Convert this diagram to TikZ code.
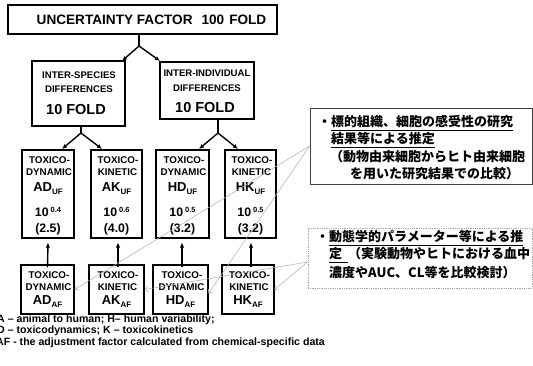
\documentclass[tikz,border=0pt]{standalone}
\usepackage{fontspec}
\setmainfont{Liberation Sans}
\newfontfamily\jp{Noto Sans CJK JP}
\usetikzlibrary{arrows.meta}
\newcommand{\fs}[1]{\fontsize{#1}{#1}\selectfont}
\newcommand{\sbx}[1]{\raisebox{-2.4pt}{\fs{8}#1}}
\newcommand{\spx}[1]{\raisebox{4.6pt}{\fs{7.5}#1}}
\begin{document}
\begin{tikzpicture}[x=1pt,y=-1pt,
  box/.style={draw=black, line width=1.1pt, fill=white, inner sep=0pt},
  lbl/.style={inner sep=0pt, font=\bfseries\fs{9.6}},
  tox/.style={inner sep=0pt, font=\bfseries\fs{9.8}},
  big/.style={inner sep=0pt, font=\bfseries\fs{12.3}},
  leg/.style={inner sep=0pt, anchor=west, font=\bfseries\fs{10.6}},
  blk/.style={line width=1.4pt, -{Latex[length=5pt,width=4.5pt]}},
  gry/.style={draw=gray!60, line width=0.55pt, -{Straight Barb[length=3pt,width=5pt]}},
  jpt/.style={inner sep=0pt, anchor=base west, font=\jp\bfseries\fs{13}}
]
\useasboundingbox (0,0) rectangle (533,366);

% top box
\node[box, minimum width=269pt, minimum height=29pt] (top) at (142.5,19.5) {};
\node[inner sep=0pt, font=\bfseries\fs{13.6}] (toptxt) at (151.5,19.5) {UNCERTAINTY FACTOR\hspace{9pt}100\hspace{5pt}FOLD};

% second level
\node[box, minimum width=93pt, minimum height=65pt] (isp) at (78.5,93.5) {};
\node[lbl] (isp1) at (79,75) {INTER-SPECIES};
\node[lbl] (isp2) at (79,89) {DIFFERENCES};
\node[inner sep=0pt, font=\bfseries\fs{14.5}] (isp3) at (76,110) {10 FOLD};

\node[box, minimum width=94pt, minimum height=57pt] (iind) at (207,90.5) {};
\node[lbl] (iind1) at (207,73) {INTER-INDIVIDUAL};
\node[lbl] (iind2) at (207,88) {DIFFERENCES};
\node[inner sep=0pt, font=\bfseries\fs{14.5}] (iind3) at (205,108) {10 FOLD};

% UF boxes
\foreach \n/\x/\w/\a/\b/\c/\e in {aduf/48/52/DYNAMIC/AD/0.4/2.5, akuf/116.5/51/KINETIC/AK/0.6/4.0, hduf/182.5/53/DYNAMIC/HD/0.5/3.2, hkuf/250.5/51/KINETIC/HK/0.5/3.2}{
  \node[box, minimum width=\w pt, minimum height=88pt] (\n) at (\x,194) {};
  \node[tox] (\n t1) at (\x+1.5,160) {TOXICO-};
  \node[tox] (\n t2) at (\x+1,172) {\a};
  \node[big, font=\bfseries\fs{13}] (\n t3) at (\x,188.5) {\b\sbx{UF}};
  \node[big] (\n t4) at (\x,212) {10\,\spx{\c}};
  \node[big] (\n t5) at (\x,229) {(\e)};
}

% AF boxes
\foreach \n/\x/\w/\a/\b in {adaf/47.5/53/DYNAMIC/AD, akaf/116.5/55/KINETIC/AK, hdaf/180.5/55/DYNAMIC/HD, hkaf/248/52/KINETIC/HK}{
  \node[box, minimum width=\w pt, minimum height=49pt] (\n) at (\x,289.5) {};
  \node[tox] (\n t1) at (\x+1.5,275) {TOXICO-};
  \node[tox] (\n t2) at (\x+1,287) {\a};
  \node[big, font=\bfseries\fs{13}] (\n t3) at (\x,301.5) {\b\sbx{AF}};
}

% tree arrows
\coordinate (s0) at (139,46);
\draw[line width=1.4pt] ([xshift=-3.5pt]top.south) -- (s0);
\draw[blk] (s0) -- (122,61);
\draw[blk] (s0) -- (160,61);
\coordinate (s1) at (81,133);
\draw[line width=1.4pt] ([xshift=2.5pt]isp.south) -- (s1);
\draw[blk] (s1) -- (62,149);
\draw[blk] (s1) -- (102,149);
\coordinate (s2) at (218,133);
\draw[line width=1.4pt] ([xshift=11pt]iind.south) -- (s2);
\draw[blk] (s2) -- (199,149);
\draw[blk] (s2) -- (238,149);

% vertical arrows AF -> UF
\draw[blk] ([yshift=-3pt]adaf.north) -- ([yshift=-4pt]aduf.south);
\draw[blk] ([xshift=1.5pt,yshift=-3pt]akaf.north) -- ([xshift=1.5pt,yshift=-4pt]akuf.south);
\draw[blk] ([xshift=1.5pt,yshift=-3pt]hdaf.north) -- ([xshift=-0.5pt,yshift=-4pt]hduf.south);
\draw[blk] ([xshift=3pt,yshift=-3pt]hkaf.north) -- ([xshift=0.5pt,yshift=-4pt]hkuf.south);

% callouts
\node[draw=black!75, line width=0.8pt, fill=white, minimum width=222pt, minimum height=76pt, inner sep=0pt] (co1) at (421,146) {};
\node[jpt] (co1a) at (318,127) {・\underline{標的組織、細胞の感受性の研究}};
\node[jpt] (co1b) at (331,144) {\underline{結果等による推定}};
\node[jpt] (co1c) at (330,162) {（動物由来細胞からヒト由来細胞};
\node[jpt] (co1d) at (350,179) {を用いた研究結果での比較）};

\node[draw=gray!70, densely dotted, line width=0.8pt, fill=white, minimum width=224pt, minimum height=60pt, inner sep=0pt] (co2) at (420,258) {};
\node[jpt] (co2a) at (316,242) {・\underline{動態学的パラメーター等による推}};
\node[jpt] (co2b) at (329,259) {\underline{定\hspace{6pt}}（実験動物やヒトにおける血中};
\node[jpt] (co2c) at (329,277) {濃度やAUC、CL等を比較検討）};

% grey connectors
\draw[gry] (co1.west) -- (adaf.east);
\draw[gry] (co1.west) -- ([yshift=-4pt]hdaf.east);
\draw[gry] ([yshift=-4pt]co2.west) -- (hkaf.east);
\draw[gry] ([yshift=-4pt]co2.west) -- (akaf.east);

% legend
\node[leg] (lg1) at (-3,319.5) {A – animal to human; H– human variability;};
\node[leg] (lg2) at (-3,331) {D – toxicodynamics; K – toxicokinetics};
\node[leg] (lg3) at (-4,342.5) {AF - the adjustment factor calculated from chemical-specific data};
\end{tikzpicture}
\end{document}
